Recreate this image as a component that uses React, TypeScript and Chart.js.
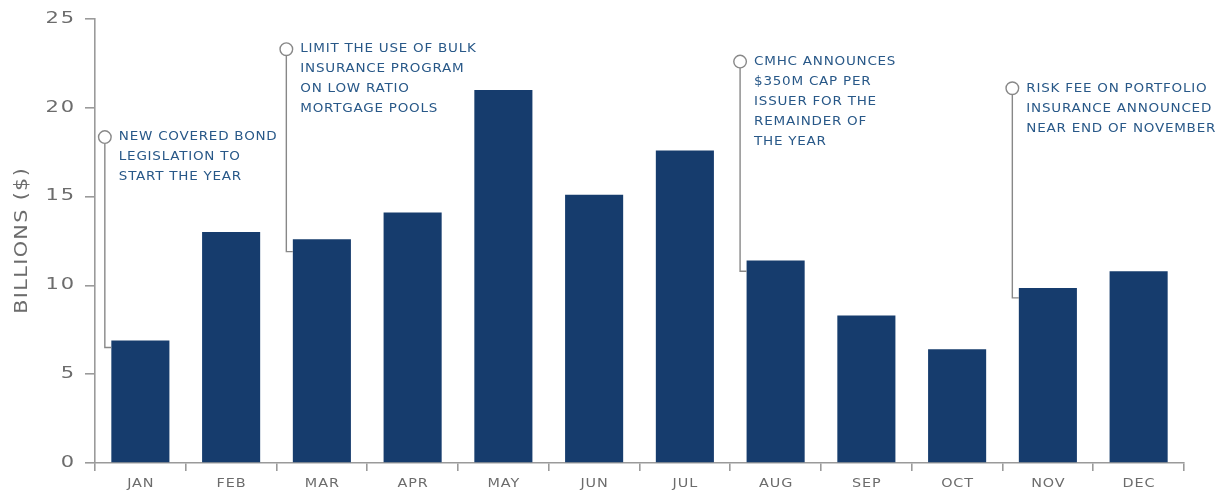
import React, { useEffect, useRef } from 'react';
import { Chart, registerables } from 'chart.js';

Chart.register(...registerables);

// ---------- data ----------
const months = ['JAN', 'FEB', 'MAR', 'APR', 'MAY', 'JUN', 'JUL', 'AUG', 'SEP', 'OCT', 'NOV', 'DEC'];
const issuanceBillions = [6.9, 13.0, 12.6, 14.1, 21.0, 15.1, 17.6, 11.4, 8.3, 6.4, 9.85, 10.8];
const yTickValues = [0, 5, 10, 15, 20, 25];
const yAxisTitle = 'BILLIONS ($)';

const noteMonths = ['JAN', 'MAR', 'AUG', 'NOV'];
const noteMarkerValues = [18.35, 23.3, 22.6, 21.1];
const noteElbowValues = [6.5, 11.9, 10.8, 9.3];
const noteTexts = [
  ['NEW COVERED BOND', 'LEGISLATION TO', 'START THE YEAR'],
  ['LIMIT THE USE OF BULK', 'INSURANCE PROGRAM', 'ON LOW RATIO', 'MORTGAGE POOLS'],
  ['CMHC ANNOUNCES', '$350M CAP PER', 'ISSUER FOR THE', 'REMAINDER OF', 'THE YEAR'],
  ['RISK FEE ON PORTFOLIO', 'INSURANCE ANNOUNCED', 'NEAR END OF NOVEMBER'],
];

// ---------- styles ----------
const BAR_COLOR = '#163c6d';
const AXIS_COLOR = '#9a9a9a';
const LABEL_COLOR = '#6c6c6c';
const NOTE_COLOR = '#285888';
const FONT = '"DejaVu Sans", sans-serif';

function drawStretched(
  ctx: CanvasRenderingContext2D,
  text: string,
  x: number,
  y: number,
  opts: { size: number; color: string; spacing: number; stretch: number; align: 'left' | 'center' | 'right' }
) {
  ctx.save();
  ctx.font = `${opts.size}px ${FONT}`;
  (ctx as any).letterSpacing = '0px';
  const base = ctx.measureText(text).width;
  const width = (base + opts.spacing * (text.length - 1)) * opts.stretch;
  let x0 = x;
  if (opts.align === 'center') x0 = x - width / 2;
  else if (opts.align === 'right') x0 = x - width;
  ctx.translate(x0, y);
  ctx.scale(opts.stretch, 1);
  (ctx as any).letterSpacing = `${opts.spacing}px`;
  ctx.fillStyle = opts.color;
  ctx.textAlign = 'left';
  ctx.textBaseline = 'middle';
  ctx.fillText(text, 0, 0);
  ctx.restore();
}

const textPlugin = {
  id: 'customText',
  afterDraw(chart: any) {
    const ctx: CanvasRenderingContext2D = chart.ctx;
    const xs = chart.scales.x;
    const ys = chart.scales.y;

    // y tick labels
    yTickValues.forEach((v) => {
      drawStretched(ctx, String(v), ys.right - 21, ys.getPixelForValue(v), {
        size: 15, color: LABEL_COLOR, spacing: 1.2, stretch: 1.4, align: 'right',
      });
    });

    // x tick labels
    months.forEach((m, i) => {
      drawStretched(ctx, m, xs.getPixelForValue(i), 484, {
        size: 12.5, color: LABEL_COLOR, spacing: 0.8, stretch: 1.15, align: 'center',
      });
    });

    // y axis title
    ctx.save();
    ctx.translate(22, (chart.chartArea.top + chart.chartArea.bottom) / 2);
    ctx.rotate(-Math.PI / 2);
    drawStretched(ctx, yAxisTitle, 0, 0, {
      size: 18, color: LABEL_COLOR, spacing: 1.2, stretch: 1.15, align: 'center',
    });
    ctx.restore();

    // annotations
    const meta = chart.getDatasetMeta(0);
    noteMonths.forEach((m, k) => {
      const idx = months.indexOf(m);
      const bar = meta.data[idx];
      const left = bar.x - bar.width / 2;
      const cx = left - 6.5;
      const cy = ys.getPixelForValue(noteMarkerValues[k]);
      const ey = ys.getPixelForValue(noteElbowValues[k]);
      const r = 6.3;

      ctx.save();
      ctx.strokeStyle = '#888888';
      ctx.lineWidth = 1.4;
      ctx.beginPath();
      ctx.moveTo(cx, cy + r);
      ctx.lineTo(cx, ey);
      ctx.lineTo(left, ey);
      ctx.stroke();
      ctx.beginPath();
      ctx.arc(cx, cy, r, 0, Math.PI * 2);
      ctx.fillStyle = '#ffffff';
      ctx.fill();
      ctx.stroke();
      ctx.restore();

      noteTexts[k].forEach((line, li) => {
        drawStretched(ctx, line, cx + 14, cy + li * 20, {
          size: 12.5, color: NOTE_COLOR, spacing: 0.7, stretch: 1.08, align: 'left',
        });
      });
    });
  },
};

export default function App() {
  const canvasRef = useRef<HTMLCanvasElement | null>(null);

  useEffect(() => {
    const canvas = canvasRef.current;
    if (!canvas) return;
    const chart = new Chart(canvas, {
      type: 'bar',
      data: {
        labels: months,
        datasets: [
          {
            data: issuanceBillions,
            backgroundColor: BAR_COLOR,
            borderWidth: 0,
            barPercentage: 0.64,
            categoryPercentage: 1,
          },
        ],
      },
      options: {
        animation: false,
        responsive: false,
        maintainAspectRatio: false,
        layout: { padding: { top: 19, right: 38, left: 0, bottom: 0 } },
        plugins: { legend: { display: false }, tooltip: { enabled: false }, title: { display: false } },
        scales: {
          x: {
            offset: true,
            grid: {
              display: true,
              drawOnChartArea: false,
              offset: true,
              tickLength: 8,
              color: AXIS_COLOR,
              lineWidth: 1.6,
            },
            border: { display: true, color: AXIS_COLOR, width: 1.6 },
            ticks: { display: false },
            afterFit: (s: any) => {
              s.height = 28;
            },
          },
          y: {
            min: 0,
            max: 25,
            ticks: { display: false, stepSize: 5 },
            grid: {
              display: true,
              drawOnChartArea: false,
              tickLength: 10,
              color: AXIS_COLOR,
              lineWidth: 1.6,
            },
            border: { display: true, color: AXIS_COLOR, width: 1.6 },
            afterFit: (s: any) => {
              s.width = 95;
            },
          },
        },
      },
      plugins: [textPlugin],
    });
    return () => chart.destroy();
  }, []);

  return (
    <div style={{ position: 'fixed', left: 0, top: 0, width: 1222, height: 491, background: '#fff' }}>
      <canvas ref={canvasRef} width={1222} height={491} style={{ display: 'block', width: 1222, height: 491 }} />
    </div>
  );
}
